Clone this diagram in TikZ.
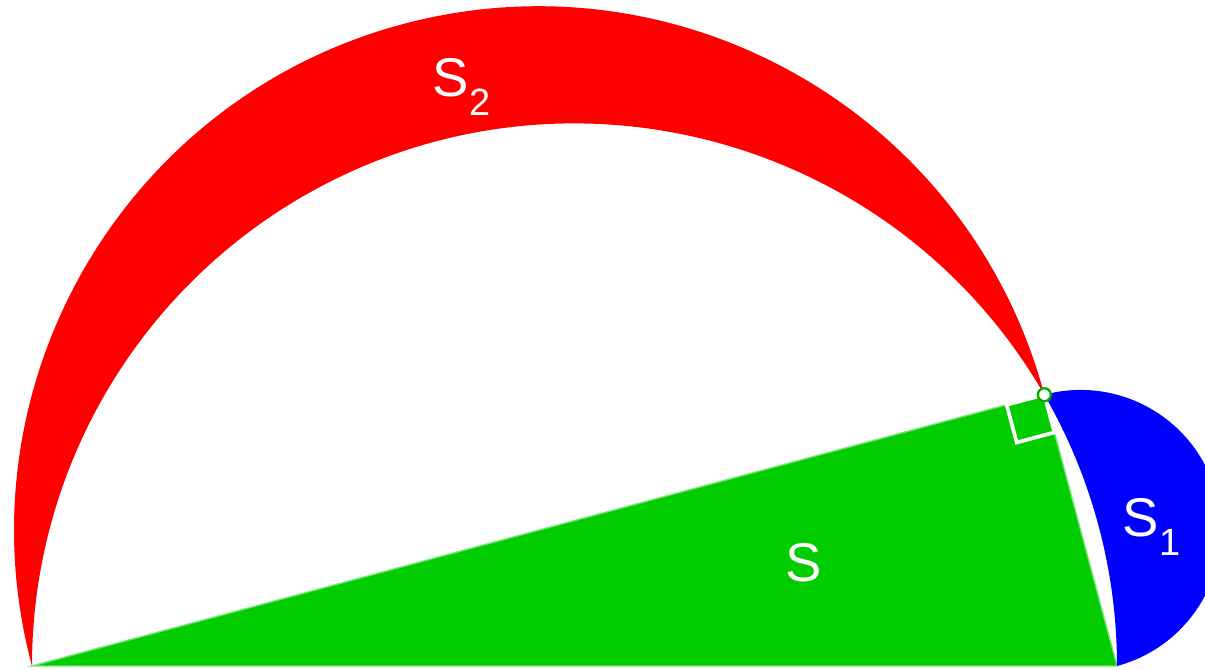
\documentclass[tikz,border=0pt]{standalone}
\usepackage{fontspec}
\setmainfont{Liberation Sans}
\usetikzlibrary{calc}
\definecolor{lunered}{RGB}{255,0,0}
\definecolor{lunegreen}{RGB}{0,204,0}
\definecolor{lunedot}{RGB}{0,170,0}
\definecolor{luneblue}{RGB}{0,0,255}
\newcommand{\lunesub}[1]{\raisebox{-0.34em}{\fontsize{10.8}{12}\selectfont #1}}
\tikzset{
  area/.style={fill=#1,draw=none},
  area/.default=lunegreen,
  lbl/.style={text=white,inner sep=0pt,anchor=base west,font=\fontsize{15.5}{18}\selectfont},
  rightmark/.style={draw=white,line width=1.05pt,line join=miter},
}
\begin{document}
\begin{tikzpicture}[x=0.01cm,y=0.01cm]
    \useasboundingbox (0,0) rectangle (1205,670);
    \clip (0,0) rectangle (1205,670);
    % points of the figure
    \coordinate (A) at (32,4);
    \coordinate (B) at (1117,4);
    \coordinate (O) at (574.5,4);
    \coordinate (C) at ($(O)+(30:542.5)$);
    \coordinate (M) at ($(A)!0.5!(C)$);
    \coordinate (N) at ($(B)!0.5!(C)$);
    % triangle
    \fill[area=lunegreen,draw=white!45!lunegreen,line width=0.4pt] (A) -- (B) -- (C) -- cycle;
    % lune on AC
    \fill[area=lunered] (A) arc[start angle=195,end angle=15,radius=524.02]
      arc[start angle=30,end angle=180,radius=542.5] -- cycle;
    % lune on BC
    \fill[area=luneblue] (B) arc[start angle=-75,end angle=105,radius=140.41]
      arc[start angle=30,end angle=0,radius=542.5] -- cycle;
    % right angle
    \draw[rightmark] (C) -- ($(C)+(195:39)$) -- ($(C)+(195:39)+(285:39)$) -- ($(C)+(285:39)$) -- cycle;
    \filldraw[fill=white,draw=lunedot,line width=0.65pt] (C) circle[radius=6.5];
    % labels
    \node[lbl] (s2) at (432,573) {S\lunesub{2}};
    \node[lbl] (s) at (785,88) {S};
    \node[lbl] (s1) at (1122,133) {S\lunesub{1}};
\end{tikzpicture}
\end{document}
